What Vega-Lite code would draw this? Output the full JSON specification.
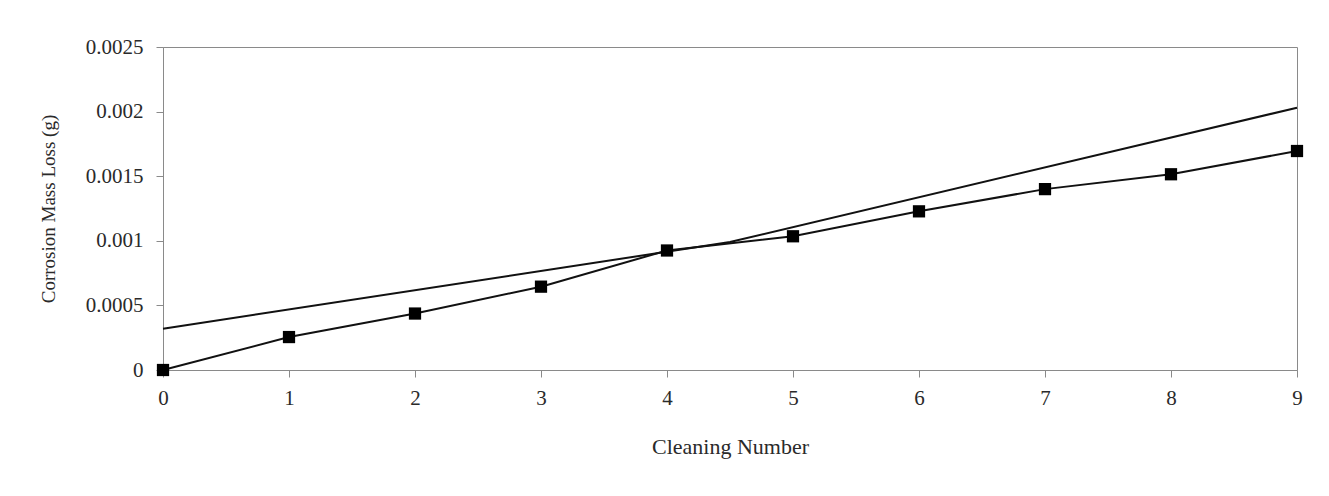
{
  "$schema": "https://vega.github.io/schema/vega-lite/v6.json",
  "width": 1134,
  "height": 323,
  "autosize": {"type": "none"},
  "padding": {"left": 163, "top": 47, "right": 32, "bottom": 126},
  "background": "white",
  "config": {
    "view": {"stroke": "#8a8a8a", "strokeWidth": 1},
    "font": "Liberation Serif",
    "axis": {
      "labelFont": "Liberation Serif",
      "titleFont": "Liberation Serif",
      "labelFontSize": 21,
      "titleFontSize": 21,
      "labelColor": "#2a2a2a",
      "titleColor": "#2a2a2a",
      "titleFontWeight": "normal",
      "domainColor": "#8a8a8a",
      "tickColor": "#8a8a8a",
      "grid": false,
      "tickSize": 7
    }
  },
  "data": {
    "values": [
      {"n": 0, "loss": 0.0, "series": "Measured"},
      {"n": 1, "loss": 0.000255, "series": "Measured"},
      {"n": 2, "loss": 0.000437, "series": "Measured"},
      {"n": 3, "loss": 0.000645, "series": "Measured"},
      {"n": 4, "loss": 0.000925, "series": "Measured"},
      {"n": 5, "loss": 0.001035, "series": "Measured"},
      {"n": 6, "loss": 0.001228, "series": "Measured"},
      {"n": 7, "loss": 0.0014, "series": "Measured"},
      {"n": 8, "loss": 0.001515, "series": "Measured"},
      {"n": 9, "loss": 0.001695, "series": "Measured"},
      {"n": 0, "loss": 0.00032, "series": "Fit"},
      {"n": 4.5, "loss": 0.00099, "series": "Fit"},
      {"n": 9, "loss": 0.00203, "series": "Fit"}
    ]
  },
  "encoding": {
    "x": {
      "field": "n",
      "type": "quantitative",
      "title": "Cleaning Number",
      "scale": {"domain": [0, 9], "nice": false, "zero": false},
      "axis": {"values": [0, 1, 2, 3, 4, 5, 6, 7, 8, 9], "format": "d", "labelPadding": 10, "titlePadding": 28, "labelFlush": false, "titleFontSize": 22}
    },
    "y": {
      "field": "loss",
      "type": "quantitative",
      "title": "Corrosion Mass Loss (g)",
      "scale": {"domain": [0, 0.0025], "nice": false},
      "axis": {"values": [0, 0.0005, 0.001, 0.0015, 0.002, 0.0025], "format": "~g", "labelPadding": 13, "titlePadding": 27, "labelFlush": false, "titleFontSize": 19}
    }
  },
  "layer": [
    {
      "transform": [{"filter": "datum.series === 'Fit'"}],
      "mark": {"type": "line", "color": "#111111", "strokeWidth": 2}
    },
    {
      "transform": [{"filter": "datum.series === 'Measured'"}],
      "mark": {"type": "line", "color": "#111111", "strokeWidth": 2}
    },
    {
      "transform": [{"filter": "datum.series === 'Measured'"}],
      "mark": {"type": "point", "shape": "square", "filled": true, "color": "#000000", "size": 150, "opacity": 1}
    }
  ]
}
